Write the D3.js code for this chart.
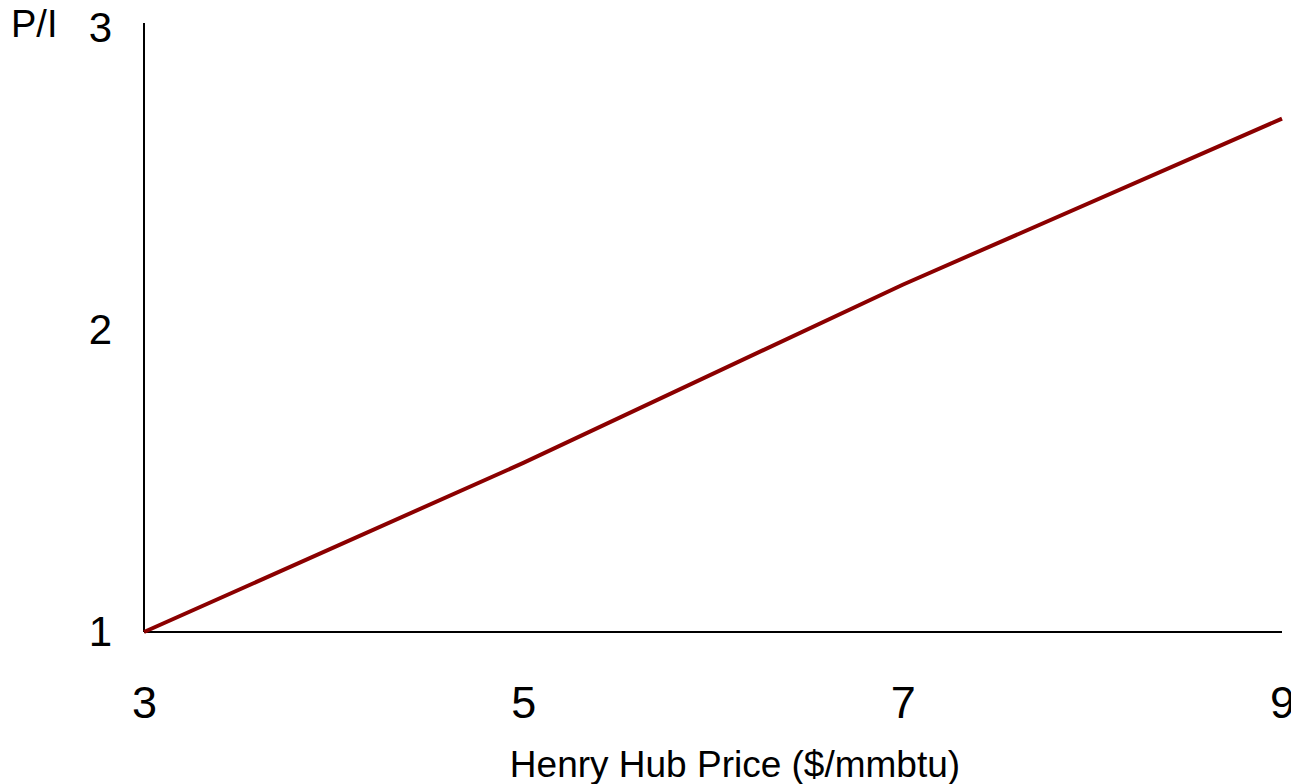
<!DOCTYPE html>
<html>
<head>
<meta charset="utf-8">
<script src="https://cdn.jsdelivr.net/npm/d3@7"></script>
<style>
  body { margin: 0; background: #fff; overflow: hidden; }
  text { font-family: "Liberation Sans", Arial, sans-serif; fill: #000; }
</style>
</head>
<body>
<div id="chart"></div>
<script>
// data
const prices = [3, 5, 7, 9];
const ratios = [1, 1.56, 2.15, 2.70];
const xTicks = [3, 5, 7, 9];
const yTicks = [1, 2, 3];

const W = 1291, H = 784;
const margin = {top: 28, right: 9, bottom: 152, left: 144};

const svg = d3.select('#chart').append('svg')
    .attr('width', W)
    .attr('height', H)
    .style('display', 'block');

const x = d3.scaleLinear()
    .domain([3, 9])
    .range([margin.left, W - margin.right]);

const y = d3.scaleLinear()
    .domain([1, 3])
    .range([H - margin.bottom, margin.top]);

// y axis: plain line, labels to the left
const yAxis = svg.append('g')
    .attr('transform', `translate(${margin.left},0)`)
    .call(d3.axisLeft(y).tickValues(yTicks).tickSize(0).tickPadding(32).tickFormat(d3.format('d')));
yAxis.select('.domain').remove();
yAxis.selectAll('text').attr('font-size', 42);
svg.append('line')
    .attr('x1', margin.left).attr('x2', margin.left)
    .attr('y1', 23).attr('y2', y(1))
    .attr('stroke', '#000').attr('stroke-width', 2);

// x axis
const xAxis = svg.append('g')
    .attr('transform', `translate(0,${y(1)})`)
    .call(d3.axisBottom(x).tickValues(xTicks).tickSize(0).tickPadding(54).tickFormat(d3.format('d')));
xAxis.select('.domain').remove();
xAxis.selectAll('text').attr('font-size', 45);
svg.append('line')
    .attr('x1', margin.left).attr('x2', x(9))
    .attr('y1', y(1)).attr('y2', y(1))
    .attr('stroke', '#000').attr('stroke-width', 2);

// axis titles
svg.append('text')
    .attr('x', 11).attr('y', 37)
    .attr('font-size', 38)
    .text('P/I');

svg.append('text')
    .attr('x', 735).attr('y', 777)
    .attr('text-anchor', 'middle')
    .attr('font-size', 37)
    .text('Henry Hub Price ($/mmbtu)');

// line
const pts = prices.map((p, i) => [p, ratios[i]]);
svg.append('path')
    .datum(pts)
    .attr('fill', 'none')
    .attr('stroke', '#8b0000')
    .attr('stroke-width', 4)
    .attr('d', d3.line().x(d => x(d[0])).y(d => y(d[1])));
</script>
</body>
</html>
